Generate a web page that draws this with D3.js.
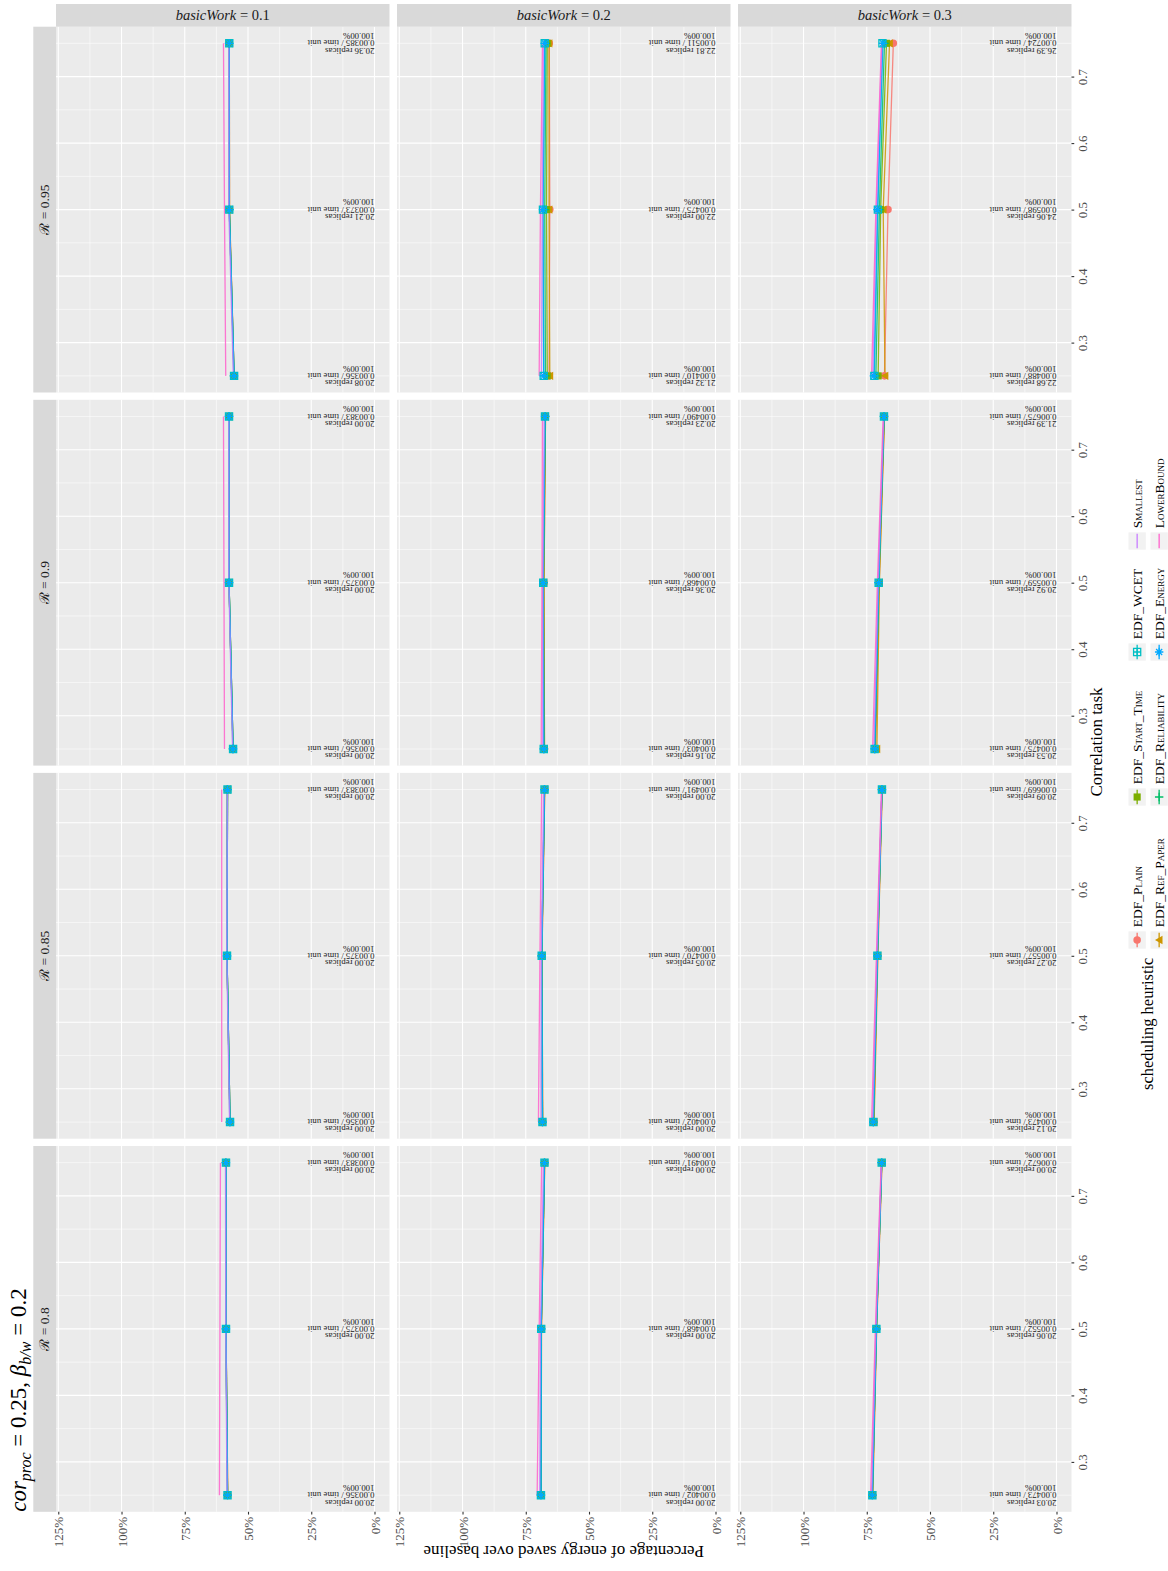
<!DOCTYPE html>
<html><head><meta charset="utf-8">
<script src="https://cdn.jsdelivr.net/npm/d3@7"></script>
<style>body{margin:0;background:#fff}svg{display:block}</style>
</head><body>
<svg id="chart" width="1168" height="1571"></svg>
<script>
// ---------------- data ----------------
const heuristics = ["EDF_Plain","EDF_Ref_Paper","EDF_Start_Time","EDF_Reliability","EDF_WCET","EDF_Energy","Smallest","LowerBound"];
const heuristicColors = ["#F8766D","#CD9600","#7CAE00","#00BE67","#00BFC4","#00A9FF","#C77CFF","#FF61CC"];
const heuristicShapes = ["circle","triangle","square","plus","squarecross","asterisk",null,null];
const basicWorks = [0.1, 0.2, 0.3];
const reliabilities = [0.95, 0.9, 0.85, 0.8];   // facet rows, top to bottom
const corrTasks = [0.25, 0.5, 0.75];
const pctTicks = [0, 0.25, 0.5, 0.75, 1.0, 1.25];
const pctMinor = [0.125, 0.375, 0.625, 0.875, 1.125];
const corrTicks = [0.3, 0.4, 0.5, 0.6, 0.7];
const corrMinor = [0.25, 0.35, 0.45, 0.55, 0.65, 0.75];

// energy saved, [reliability row][heuristic][corrTask]
const saved_bw01 = [
  [[0.555,0.573,0.574],[0.555,0.573,0.574],[0.555,0.574,0.574],[0.556,0.574,0.575],[0.555,0.574,0.574],[0.555,0.574,0.574],[0.558,0.576,0.576],[0.588,0.593,0.597]],
  [[0.559,0.575,0.575],[0.559,0.575,0.575],[0.559,0.575,0.575],[0.560,0.575,0.575],[0.559,0.575,0.575],[0.559,0.575,0.575],[0.561,0.576,0.576],[0.593,0.595,0.597]],
  [[0.571,0.583,0.581],[0.571,0.583,0.581],[0.571,0.583,0.581],[0.572,0.583,0.582],[0.571,0.583,0.581],[0.571,0.583,0.581],[0.573,0.584,0.582],[0.604,0.604,0.604]],
  [[0.580,0.587,0.587],[0.580,0.587,0.587],[0.581,0.587,0.588],[0.581,0.588,0.588],[0.581,0.587,0.587],[0.581,0.587,0.587],[0.583,0.588,0.589],[0.613,0.611,0.609]]
];
const saved_bw02 = [
  [[0.658,0.655,0.657],[0.655,0.658,0.658],[0.665,0.668,0.665],[0.672,0.675,0.670],[0.679,0.682,0.675],[0.679,0.682,0.675],[0.688,0.685,0.680],[0.697,0.692,0.684]],
  [[0.676,0.678,0.672],[0.676,0.678,0.672],[0.678,0.680,0.673],[0.678,0.680,0.673],[0.679,0.681,0.674],[0.679,0.681,0.674],[0.683,0.683,0.677],[0.689,0.686,0.684]],
  [[0.683,0.686,0.675],[0.683,0.686,0.675],[0.684,0.687,0.676],[0.684,0.687,0.676],[0.684,0.687,0.676],[0.684,0.687,0.676],[0.690,0.689,0.679],[0.700,0.694,0.687]],
  [[0.689,0.688,0.675],[0.689,0.688,0.675],[0.690,0.689,0.676],[0.690,0.689,0.676],[0.690,0.689,0.676],[0.690,0.689,0.676],[0.695,0.692,0.680],[0.705,0.697,0.687]]
];
const saved_bw03 = [
  [[0.680,0.666,0.645],[0.678,0.685,0.660],[0.705,0.695,0.672],[0.714,0.700,0.680],[0.720,0.706,0.688],[0.722,0.708,0.686],[0.726,0.712,0.690],[0.731,0.714,0.692]],
  [[0.715,0.701,0.680],[0.710,0.700,0.680],[0.717,0.702,0.681],[0.718,0.703,0.682],[0.719,0.703,0.682],[0.719,0.703,0.682],[0.722,0.705,0.683],[0.727,0.708,0.685]],
  [[0.722,0.707,0.689],[0.721,0.706,0.689],[0.723,0.708,0.690],[0.724,0.708,0.690],[0.724,0.708,0.690],[0.724,0.708,0.690],[0.727,0.710,0.691],[0.731,0.712,0.692]],
  [[0.727,0.711,0.690],[0.726,0.711,0.690],[0.728,0.712,0.691],[0.728,0.712,0.691],[0.728,0.712,0.691],[0.728,0.712,0.691],[0.731,0.714,0.692],[0.735,0.716,0.693]]
];
// replicas and rate annotations, [reliability row][corrTask]
const replicas_bw01 = [[20.08,20.21,20.36],[20.00,20.00,20.00],[20.00,20.00,20.00],[20.00,20.00,20.00]];
const replicas_bw02 = [[21.32,22.00,22.81],[20.16,20.36,20.23],[20.00,20.05,20.00],[20.00,20.00,20.00]];
const replicas_bw03 = [[22.68,24.06,26.39],[20.53,20.92,21.39],[20.12,20.27,20.09],[20.03,20.06,20.00]];
const rate_bw01 = [[0.00356,0.00373,0.00385],[0.00356,0.00375,0.00383],[0.00356,0.00375,0.00383],[0.00356,0.00375,0.00383]];
const rate_bw02 = [[0.00410,0.00475,0.00511],[0.00403,0.00468,0.00490],[0.00402,0.00470,0.00491],[0.00402,0.00468,0.00491]];
const rate_bw03 = [[0.00488,0.00598,0.00724],[0.00475,0.00559,0.00675],[0.00473,0.00557,0.00669],[0.00473,0.00552,0.00672]];
const successRate = 1.0;

// ---------------- layout ----------------
const savedByBw = [saved_bw01, saved_bw02, saved_bw03];
const replicasByBw = [replicas_bw01, replicas_bw02, replicas_bw03];
const rateByBw = [rate_bw01, rate_bw02, rate_bw03];

const FONT = "'Liberation Serif','DejaVu Serif',serif";
const svg = d3.select("#chart").style("font-family", FONT);
const colLeft = [56, 397, 738], colW = 333.5;
const rowTop = [26.7, 399.8, 772.9, 1146], rowH = 365.8;
const stripL = 33.3, stripTop = 4;

function xScale(ci){ return d3.scaleLinear().domain([1.259, -0.0593]).range([colLeft[ci], colLeft[ci]+colW]); }
function yScale(ri){ return d3.scaleLinear().domain([0.775, 0.225]).range([rowTop[ri], rowTop[ri]+rowH]); }

function shapePath(shape, s){
  switch(shape){
    case "circle": return d3.symbol(d3.symbolCircle, Math.PI*s*s*0.8)();
    case "square": return `M${-s*0.85},${-s*0.85}H${s*0.85}V${s*0.85}H${-s*0.85}Z`;
    case "triangle": return `M${-s},0L${s*0.8},${-s}L${s*0.8},${s}Z`;
    case "plus": return `M${-s},0H${s}M0,${-s}V${s}`;
    case "squarecross": return `M${-s*0.85},${-s*0.85}H${s*0.85}V${s*0.85}H${-s*0.85}ZM${-s*0.85},0H${s*0.85}M0,${-s*0.85}V${s*0.85}`;
    case "asterisk": {const d=s*0.72; return `M${-s},0H${s}M0,${-s}V${s}M${-d},${-d}L${d},${d}M${-d},${d}L${d},${-d}`;}
  }
}
function isFilled(shape){ return shape==="circle"||shape==="square"||shape==="triangle"; }
function drawPoint(g, shape, color, cx, cy, s){
  const p = g.append("path").attr("d", shapePath(shape, s)).attr("transform", `translate(${cx},${cy})`);
  if (isFilled(shape)) p.attr("fill", color).attr("stroke","none");
  else p.attr("fill","none").attr("stroke", color).attr("stroke-width", 1.3);
}

// ---------------- panels ----------------
basicWorks.forEach((bw, ci) => {
  reliabilities.forEach((R, ri) => {
    const x = xScale(ci), y = yScale(ri);
    const g = svg.append("g");
    g.append("rect").attr("x", colLeft[ci]).attr("y", rowTop[ri]).attr("width", colW).attr("height", rowH).attr("fill", "#EBEBEB");
    g.selectAll(".vmin").data(pctMinor).join("line").attr("x1", d=>x(d)).attr("x2", d=>x(d)).attr("y1", rowTop[ri]).attr("y2", rowTop[ri]+rowH).attr("stroke","#fff").attr("stroke-width",0.55);
    g.selectAll(".hmin").data(corrMinor).join("line").attr("y1", d=>y(d)).attr("y2", d=>y(d)).attr("x1", colLeft[ci]).attr("x2", colLeft[ci]+colW).attr("stroke","#fff").attr("stroke-width",0.55);
    g.selectAll(".vmaj").data(pctTicks).join("line").attr("x1", d=>x(d)).attr("x2", d=>x(d)).attr("y1", rowTop[ri]).attr("y2", rowTop[ri]+rowH).attr("stroke","#fff").attr("stroke-width",1.1);
    g.selectAll(".hmaj").data(corrTicks).join("line").attr("y1", d=>y(d)).attr("y2", d=>y(d)).attr("x1", colLeft[ci]).attr("x2", colLeft[ci]+colW).attr("stroke","#fff").attr("stroke-width",1.1);

    // annotations
    const reps = replicasByBw[ci][ri], rates = rateByBw[ci][ri];
    corrTasks.forEach((c, k) => {
      const t = g.append("text").attr("transform", `translate(${x(0)},${y(c)}) rotate(180)`)
        .attr("font-size", 8.8).attr("fill", "#222").attr("text-anchor", "start");
      const lines = [d3.format(".2f")(reps[k]) + " replicas", d3.format(".5f")(rates[k]) + " / time unit", d3.format(".2%")(successRate)];
      lines.forEach((ln, j) => t.append("tspan").attr("x", 0).attr("y", (j-1)*7.3).attr("dy", "0.33em").text(ln));
    });

    // lines
    const data = savedByBw[ci][ri];
    const line = d3.line().x(d => x(d.v)).y(d => y(d.c));
    heuristics.forEach((h, hi) => {
      const pts = corrTasks.map((c, k) => ({c, v: data[hi][k]}));
      g.append("path").datum(pts).attr("d", line).attr("fill","none")
        .attr("stroke", heuristicColors[hi]).attr("stroke-width", 1.3).attr("opacity", 0.85);
    });
    heuristics.forEach((h, hi) => {
      if (!heuristicShapes[hi]) return;
      corrTasks.forEach((c, k) => drawPoint(g, heuristicShapes[hi], heuristicColors[hi], x(data[hi][k]), y(c), 4.2));
    });
  });
});

// ---------------- strips ----------------
basicWorks.forEach((bw, ci) => {
  svg.append("rect").attr("x", colLeft[ci]).attr("y", stripTop).attr("width", colW).attr("height", rowTop[0]-stripTop).attr("fill", "#D9D9D9");
  const t = svg.append("text").attr("x", colLeft[ci]+colW/2).attr("y", (stripTop+rowTop[0])/2).attr("dy","0.35em")
    .attr("text-anchor","middle").attr("font-size", 14.5).attr("fill","#1A1A1A");
  t.append("tspan").attr("font-style","italic").text("basicWork");
  t.append("tspan").text(" = " + bw);
});
reliabilities.forEach((R, ri) => {
  svg.append("rect").attr("x", stripL).attr("y", rowTop[ri]).attr("width", colLeft[0]-stripL).attr("height", rowH).attr("fill", "#D9D9D9");
  svg.append("text").attr("transform", `translate(${(stripL+colLeft[0])/2},${rowTop[ri]+rowH/2}) rotate(-90)`).attr("dy","0.35em")
    .attr("text-anchor","middle").attr("font-size", 13.5).attr("fill","#1A1A1A").text("\u211B = " + R);
});

// ---------------- axes ----------------
basicWorks.forEach((bw, ci) => {
  const x = xScale(ci);
  const bottom = rowTop[3] + rowH;
  const ax = svg.append("g").attr("transform", `translate(0,${bottom})`)
    .call(d3.axisBottom(x).tickValues(pctTicks).tickSize(2.74).tickFormat(d3.format(".0%")));
  ax.select(".domain").remove();
  ax.selectAll("line").attr("stroke","#333").attr("stroke-width",1.1);
  ax.selectAll("text").attr("transform","rotate(-90)").attr("x",-5).attr("y",0).attr("dy","0.35em")
    .attr("text-anchor","end").attr("font-size",13).attr("font-family",FONT).attr("fill","#4D4D4D");
});
reliabilities.forEach((R, ri) => {
  const y = yScale(ri);
  const right = colLeft[2] + colW;
  const ax = svg.append("g").attr("transform", `translate(${right},0)`)
    .call(d3.axisRight(y).tickValues(corrTicks).tickSize(2.74).tickFormat(d3.format(".1f")));
  ax.select(".domain").remove();
  ax.selectAll("line").attr("stroke","#333").attr("stroke-width",1.1);
  ax.selectAll("text").attr("transform","rotate(-90)").attr("x",0).attr("y",15.5).attr("dy",0)
    .attr("text-anchor","middle").attr("font-size",13).attr("font-family",FONT).attr("fill","#4D4D4D");
});

// axis titles
svg.append("text").attr("transform", `translate(${(colLeft[0]+colLeft[2]+colW)/2},1552) rotate(180)`).attr("dy","0.35em")
  .attr("text-anchor","middle").attr("font-size",17).attr("fill","#000").text("Percentage of energy saved over baseline");
svg.append("text").attr("transform", `translate(1102,742) rotate(-90)`)
  .attr("text-anchor","middle").attr("font-size",17).attr("fill","#000").text("Correlation task");

// title
const title = svg.append("text").attr("transform", `translate(26,${rowTop[3]+rowH}) rotate(-90)`)
  .attr("text-anchor","start").attr("font-size",23).attr("fill","#000");
title.append("tspan").attr("font-style","italic").text("cor");
title.append("tspan").attr("font-style","italic").attr("font-size",16).attr("dy",5).text("proc");
title.append("tspan").attr("dy",-5).text(" = 0.25, ");
title.append("tspan").attr("font-style","italic").text("\u03B2");
title.append("tspan").attr("font-style","italic").attr("font-size",16).attr("dy",5).text("b/w");
title.append("tspan").attr("dy",-5).text(" = 0.2");

// ---------------- legend ----------------
const keySize = 17.3;
const keyRowX = [1128.5, 1150.5];          // left edge of each legend row (current x)
const keyColY = [940, 797, 652, 541];      // center of each legend column (current y)
svg.append("text").attr("transform", `translate(1153,1090) rotate(-90)`)
  .attr("text-anchor","start").attr("font-size",16.5).attr("fill","#000").text("scheduling heuristic");
heuristics.forEach((h, hi) => {
  const col = Math.floor(hi/2), row = hi % 2;
  const x0 = keyRowX[row], cy = keyColY[col], cx = x0 + keySize/2;
  const g = svg.append("g");
  g.append("rect").attr("x", x0).attr("y", cy-keySize/2).attr("width", keySize).attr("height", keySize).attr("fill","#F2F2F2");
  g.append("line").attr("x1", cx).attr("x2", cx).attr("y1", cy-keySize/2+1.5).attr("y2", cy+keySize/2-1.5)
    .attr("stroke", heuristicColors[hi]).attr("stroke-width",1.3);
  if (heuristicShapes[hi]) drawPoint(g, heuristicShapes[hi], heuristicColors[hi], cx, cy, 4.2);
  g.append("text").attr("transform", `translate(${cx},${cy-keySize/2-4}) rotate(-90)`).attr("dy","0.35em")
    .attr("text-anchor","start").attr("font-size",13.5).style("font-variant","small-caps").attr("fill","#000").text(h);
});
</script>
</body></html>
